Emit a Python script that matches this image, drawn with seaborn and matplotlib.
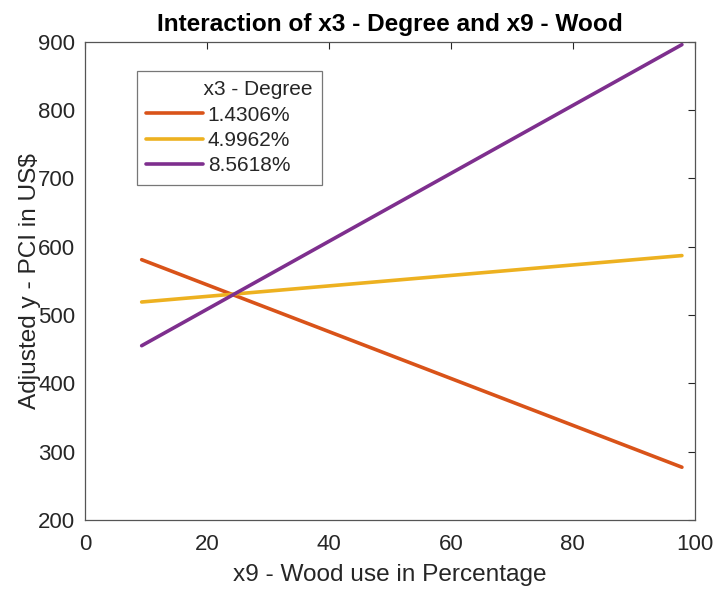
import matplotlib
matplotlib.use('Agg')
import matplotlib.pyplot as plt
import seaborn as sns
import pandas as pd

# values
wood = [9.3, 97.9]
degree_levels = ['1.4306%', '4.9962%', '8.5618%']
pci_low = [581, 277]
pci_mid = [519, 587]
pci_high = [455, 896]
colors = ['#D95319', '#EDB120', '#7E2F8E']

df = pd.DataFrame({
    'x9': wood * 3,
    'y': pci_low + pci_mid + pci_high,
    'x3 - Degree': [lvl for lvl in degree_levels for _ in wood],
})

sns.set_style('white')
plt.rcParams['font.family'] = ['Liberation Sans', 'DejaVu Sans']

fig = plt.figure(figsize=(7.14, 5.9), dpi=100)
ax = fig.add_axes([0.119, 0.119, 0.854, 0.81])
sns.lineplot(data=df, x='x9', y='y', hue='x3 - Degree', palette=colors,
             linewidth=2.6, ax=ax)

ax.set_xlim(0, 100)
ax.set_ylim(200, 900)
ax.set_xticks(range(0, 101, 20))
ax.set_yticks(range(200, 901, 100))
ax.tick_params(direction='in', length=5, width=0.8, labelsize=16,
               top=True, right=True, color='#262626', labelcolor='#262626', pad=7)
ax.tick_params(axis='x', pad=10)
for s in ax.spines.values():
    s.set_color('#555555')
    s.set_linewidth(0.9)

ax.set_xlabel('x9 - Wood use in Percentage', fontsize=17.6, color='#262626',
              labelpad=7)
ax.set_ylabel('Adjusted y - PCI in US$', fontsize=17.6, color='#262626',
              labelpad=-2)
ax.set_title('Interaction of x3 - Degree and x9 - Wood', fontsize=17.6,
             fontweight='bold', pad=8, color='black')

# MATLAB puts the legend title over the text column, so pad it on the left
leg = ax.legend(title='          x3 - Degree', loc='upper left',
                bbox_to_anchor=(0.085, 0.939), fontsize=15, title_fontsize=15,
                frameon=True, fancybox=False, handlelength=2.75,
                handletextpad=0.2, borderpad=0.45, labelspacing=0.3,
                borderaxespad=0, alignment='left')
leg.get_frame().set_edgecolor('#555555')
leg.get_frame().set_linewidth(0.9)

fig.savefig('out.png', dpi=100)
